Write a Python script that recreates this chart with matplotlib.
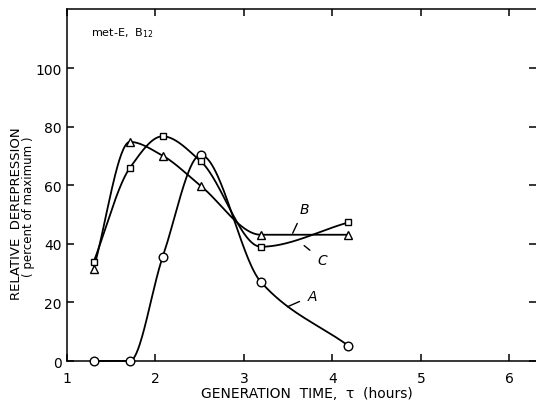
import numpy as np
import matplotlib.pyplot as plt

# generation time (hours), same for all three cultures
gen_time = [1.30, 1.71, 2.08, 2.51, 3.19, 4.18]

# relative derepression, percent of maximum
curve_a = [0, 0, 35.4, 70.3, 27.0, 5.2]        # circles
curve_sq = [33.7, 65.9, 76.7, 68.2, 39.0, 47.3]  # squares
curve_tri = [31.4, 74.8, 70.1, 59.8, 43.1, 43.1]  # triangles

x_ticks = [1, 2, 3, 4, 5, 6]
y_ticks = [0, 20, 40, 60, 80, 100]


def smooth_line(x, y, n=60):
    '''
    Monotone cubic (PCHIP style) curve through the points, for drawing only
    '''
    x = np.asarray(x, float)
    y = np.asarray(y, float)
    h = np.diff(x)
    d = np.diff(y) / h
    m = np.zeros_like(y)
    for k in range(1, len(x) - 1):
        if d[k - 1] * d[k] > 0:
            w1 = 2 * h[k] + h[k - 1]
            w2 = h[k] + 2 * h[k - 1]
            m[k] = (w1 + w2) / (w1 / d[k - 1] + w2 / d[k])
    m[0] = d[0]
    m[-1] = d[-1]

    xs, ys = [], []
    t = np.linspace(0, 1, n)
    for k in range(len(h)):
        h00 = 2 * t**3 - 3 * t**2 + 1
        h10 = t**3 - 2 * t**2 + t
        h01 = -2 * t**3 + 3 * t**2
        h11 = t**3 - t**2
        xs.append(x[k] + t * h[k])
        ys.append(h00 * y[k] + h10 * h[k] * m[k] + h01 * y[k + 1] + h11 * h[k] * m[k + 1])
    return np.concatenate(xs), np.concatenate(ys)


plt.rcParams['font.family'] = 'DejaVu Sans'

fig = plt.figure(figsize=(5.36, 4.02), dpi=100)
ax = fig.add_axes([0.125, 0.0995, 0.875, 0.8745])

for ys, marker, ms in [(curve_a, 'o', 6.2), (curve_sq, 's', 5), (curve_tri, '^', 6)]:
    sx, sy = smooth_line(gen_time, ys)
    ax.plot(sx, sy, color='black', lw=1.3, clip_on=False)
    ax.plot(gen_time, ys, linestyle='none', marker=marker, ms=ms, mfc='white',
            mec='black', mew=1.0, clip_on=False, zorder=5)

ax.set_xlim(1, 6.3)
ax.set_ylim(0, 120)
ax.set_xticks(x_ticks)
ax.set_yticks(y_ticks)

ax.tick_params(direction='in', length=5, width=1.1, labelsize=10,
               top=True, right=True)
ax.tick_params(axis='x', pad=7)
ax.tick_params(axis='y', pad=4)

for side in ['left', 'bottom', 'top']:
    ax.spines[side].set_linewidth(1.1)
ax.spines['right'].set_visible(False)

ax.set_xlabel('GENERATION  TIME,  τ  (hours)', fontsize=10)
ax.xaxis.set_label_coords(0.512, -0.072)

fig.text(0.030, 0.469, 'RELATIVE  DEREPRESSION', rotation=90,
         ha='center', va='center', fontsize=9.5)
fig.text(0.054, 0.485, '( percent of maximum )', rotation=90,
         ha='center', va='center', fontsize=8.5)

ax.text(1.27, 112.3, 'met-E,  B$_{12}$', fontsize=8, va='center')

# curve labels with leader lines
ax.annotate('B', xy=(3.55, 43.6), xytext=(3.68, 52), fontsize=10, style='italic',
            ha='center', va='center',
            arrowprops=dict(arrowstyle='-', lw=1.0, shrinkA=4, shrinkB=0))
ax.annotate('C', xy=(3.68, 39.4), xytext=(3.88, 34.5), fontsize=10, style='italic',
            ha='center', va='center',
            arrowprops=dict(arrowstyle='-', lw=1.0, shrinkA=4, shrinkB=0))
ax.annotate('A', xy=(3.49, 18.5), xytext=(3.77, 22.2), fontsize=10, style='italic',
            ha='center', va='center',
            arrowprops=dict(arrowstyle='-', lw=1.0, shrinkA=4, shrinkB=0))

fig.savefig('out.png', dpi=100)
